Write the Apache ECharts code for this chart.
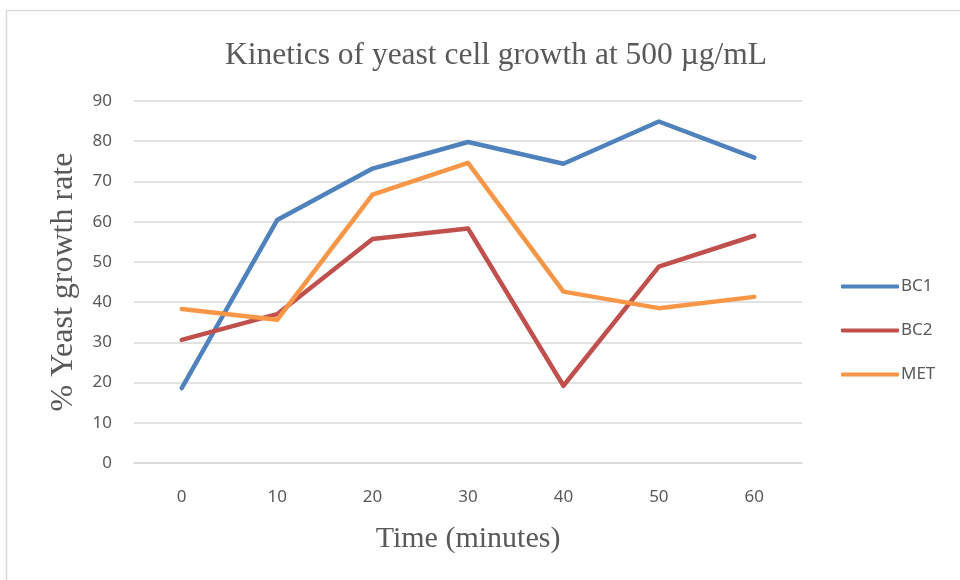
<!DOCTYPE html>
<html><head><meta charset="utf-8">
<script src="https://cdn.jsdelivr.net/npm/echarts@6/dist/echarts.min.js"></script>
<style>html,body{margin:0;padding:0;background:#fff}#c{width:960px;height:580px}</style>
</head><body><div id="c"></div>
<script>
var categories = ['0','10','20','30','40','50','60'];
var bc1 = [18.6, 60.4, 73.2, 79.8, 74.4, 84.9, 75.9];
var bc2 = [30.6, 37.0, 55.7, 58.3, 19.2, 48.8, 56.5];
var met = [38.3, 35.6, 66.7, 74.6, 42.6, 38.5, 41.3];
var seriesNames = ['BC1','BC2','MET'];
var colors = ['#4f81bd','#c0504d','#f79646'];
var chart = echarts.init(document.getElementById('c'), null, {renderer:'canvas'});
function mk(name, data, color){
  return {name:name, type:'line', data:data, symbol:'none', smooth:false,
    lineStyle:{width:4.5, color:color, cap:'round', join:'round'}, itemStyle:{color:color}};
}
chart.setOption({
  animation:false,
  backgroundColor:'#fff',
  graphic:[{type:'rect', shape:{x:6.5,y:10.5,width:960,height:580}, style:{fill:'none', stroke:'#d9d9d9', lineWidth:1.5}, silent:true}],
  title:{text:'Kinetics of yeast cell growth at 500 µg/mL', left:491, textAlign:'center', top:35,
    textStyle:{fontFamily:'Liberation Serif', fontSize:31.5, fontWeight:'normal', color:'#595959'}},
  legend:{orient:'vertical', left:836, top:273, itemWidth:58, itemHeight:4, itemGap:27, icon:'roundRect',
    data:seriesNames,
    textStyle:{fontFamily:'Noto Sans', fontSize:17, color:'#595959', padding:[0,0,0,-3]}},
  grid:{left:134, right:158, top:101, bottom:117, containLabel:false},
  xAxis:{type:'category', data:categories, boundaryGap:true,
    name:'Time (minutes)', nameLocation:'middle', nameGap:61,
    nameTextStyle:{fontFamily:'Liberation Serif', fontSize:30, color:'#595959'},
    axisLine:{show:true, lineStyle:{color:'#d9d9d9', width:1.5}}, axisTick:{show:false},
    axisLabel:{fontFamily:'Noto Sans', fontSize:17, color:'#595959', margin:26}},
  yAxis:{type:'value', min:0, max:90, interval:10,
    name:'% Yeast growth rate', nameLocation:'middle', nameGap:54, nameRotate:90,
    nameTextStyle:{fontFamily:'Liberation Serif', fontSize:32, color:'#595959'},
    axisLine:{show:false}, axisTick:{show:false},
    splitLine:{lineStyle:{color:'#d9d9d9', width:1.5}},
    axisLabel:{fontFamily:'Noto Sans', fontSize:17, color:'#595959', margin:22}},
  series:[mk('BC1',bc1,colors[0]), mk('BC2',bc2,colors[1]), mk('MET',met,colors[2])]
});
</script></body></html>
